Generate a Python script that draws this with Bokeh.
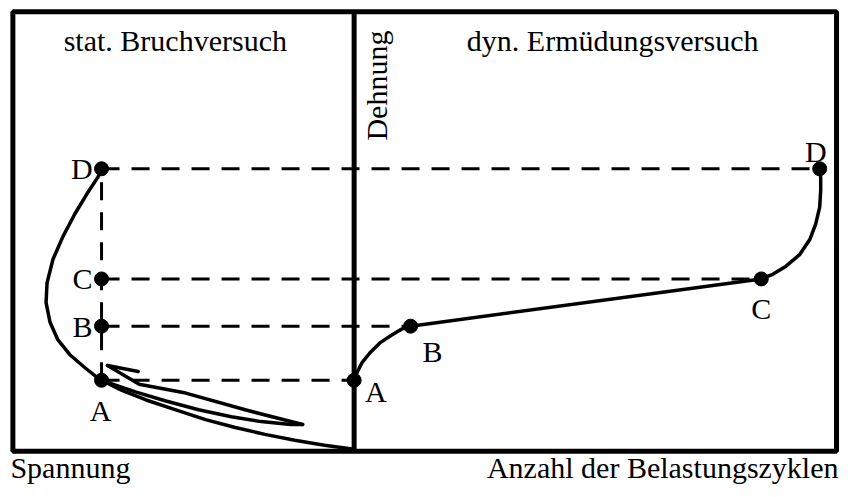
from bokeh.plotting import figure
from bokeh.models import Range1d
from bokeh.embed import file_html
from bokeh.resources import INLINE
from bokeh.core.properties import value
import math

# ---------------- data (schematic units: x = 0 at the dividing axis,
# negative x = Spannung (left panel), positive x = Lastzyklen (right panel),
# y = Dehnung, 0 at the bottom frame) ----------------
point_names = ["A", "B", "C", "D"]
strain_levels = [72, 127, 175, 287]          # Dehnung of points A..D
static_stress = [-255, -255, -255, -255]     # Spannung of points A..D (left)
cycles = [0, 57, 411, 470]                   # Lastzyklen of points A..D (right)

# static fracture test curve D -> A (bulging to the left)
static_x = [-254, -259, -270, -282, -294, -304, -310, -311, -307, -299, -287, -272, -257]
static_y = [287, 278, 261, 241, 218, 195, 171, 151, 131, 113, 98, 85, 73]

# unloading branch from A down to the origin
unload_x = [-255, -235, -210, -180, -150, -120, -90, -60, -30, 0]
unload_y = [72, 62, 52, 42, 32, 24, 17, 11, 6, 2]

# hysteresis loop (lower branch) from A to the tip
loop_x = [-255, -220, -190, -157, -124, -94, -64, -52]
loop_y = [72, 60, 51, 42, 35, 30, 27, 27]

# arrow shaft from tip back towards A and barb
shaft_x = [-52, -110, -170, -217, -249]
shaft_y = [27, 42, 59, 68, 87]
barb_x = [-249, -218]
barb_y = [87, 81]

# fatigue curve A -> B -> C -> D
fat1_x = [0, 3, 8, 16, 26, 38, 48, 57]
fat1_y = [72, 80, 90, 100, 110, 118, 124, 127]
fat2_x = [57, 411]
fat2_y = [127, 175]
fat3_x = [411, 423, 436, 450, 460, 466, 470, 471, 471, 470]
fat3_y = [175, 180, 188, 200, 215, 231, 248, 265, 278, 287]

title_left = "stat. Bruchversuch"
title_right = "dyn. Ermüdungsversuch"
label_y = "Dehnung"
label_x_left = "Spannung"
label_x_right = "Anzahl der Belastungszyklen"

# ---------------- figure ----------------
W, H = 840, 489
p = figure(width=W, height=H, output_backend="svg", toolbar_location=None,
           x_range=Range1d(-357, 491), y_range=Range1d(-39, 458),
           min_border=0, tools="")
p.xaxis.visible = False
p.yaxis.visible = False
p.grid.visible = False
p.outline_line_color = None
p.background_fill_color = "white"
p.border_fill_color = "white"

BLACK = "black"
FONT = value("Liberation Serif")

# frame and dividing axis
p.quad(left=[-344.5], right=[487], bottom=[0], top=[446.5],
       fill_color=None, line_color=BLACK, line_width=5)
p.line([0, 0], [0, 446.5], line_color=BLACK, line_width=5)

# dashed guide lines
dash = "18 12"
p.line([static_stress[0], static_stress[3]], [strain_levels[0], strain_levels[3]],
       line_color=BLACK, line_width=3, line_dash=dash)
for i in range(4):
    p.line([static_stress[i], cycles[i]], [strain_levels[i], strain_levels[i]],
           line_color=BLACK, line_width=3, line_dash=dash)

# curves
cw = 3.5
for xs, ys in [(static_x, static_y), (unload_x, unload_y), (loop_x, loop_y),
               (shaft_x, shaft_y), (barb_x, barb_y),
               (fat1_x, fat1_y), (fat2_x, fat2_y), (fat3_x, fat3_y)]:
    p.line(xs, ys, line_color=BLACK, line_width=cw, line_join="round", line_cap="round")

# points
p.scatter(static_stress, strain_levels, size=14, color=BLACK)
p.scatter(cycles, strain_levels, size=14, color=BLACK)

fs = "30px"
# point labels, left panel (vertically centred on the points B, C, D)
p.text(x=[-264, -264, -264], y=strain_levels[1:],
       text=point_names[1:],
       text_font=FONT, text_font_size=fs, text_align="right",
       text_baseline="middle", text_color=BLACK)
p.text(x=[-256], y=[41], text=[point_names[0]], text_font=FONT, text_font_size=fs,
       text_align="center", text_baseline="alphabetic", text_color=BLACK)
# point labels, right panel
p.text(x=[11, 69], y=[61, 101], text=[point_names[0], point_names[1]],
       text_font=FONT, text_font_size=fs, text_align="left",
       text_baseline="alphabetic", text_color=BLACK)
p.text(x=[411, 466], y=[145, 305], text=[point_names[2], point_names[3]],
       text_font=FONT, text_font_size=fs, text_align="center",
       text_baseline="alphabetic", text_color=BLACK)

# titles
p.text(x=[-180.5], y=[417], text=[title_left], text_font=FONT, text_font_size=fs,
       text_align="center", text_baseline="alphabetic", text_color=BLACK)
p.text(x=[261], y=[417], text=[title_right], text_font=FONT, text_font_size=fs,
       text_align="center", text_baseline="alphabetic", text_color=BLACK)
p.text(x=[23], y=[371.5], text=[label_y], angle=math.pi / 2, text_font=FONT,
       text_font_size=fs, text_align="center", text_baseline="alphabetic",
       text_color=BLACK)
p.text(x=[-347], y=[-17], text=[label_x_left], text_font=FONT, text_font_size=fs,
       text_align="left", text_baseline="alphabetic", text_color=BLACK)
p.text(x=[489], y=[-17], text=[label_x_right], text_font=FONT, text_font_size=fs,
       text_align="right", text_baseline="alphabetic", text_color=BLACK)

open("out.html", "w").write(file_html(p, INLINE))
